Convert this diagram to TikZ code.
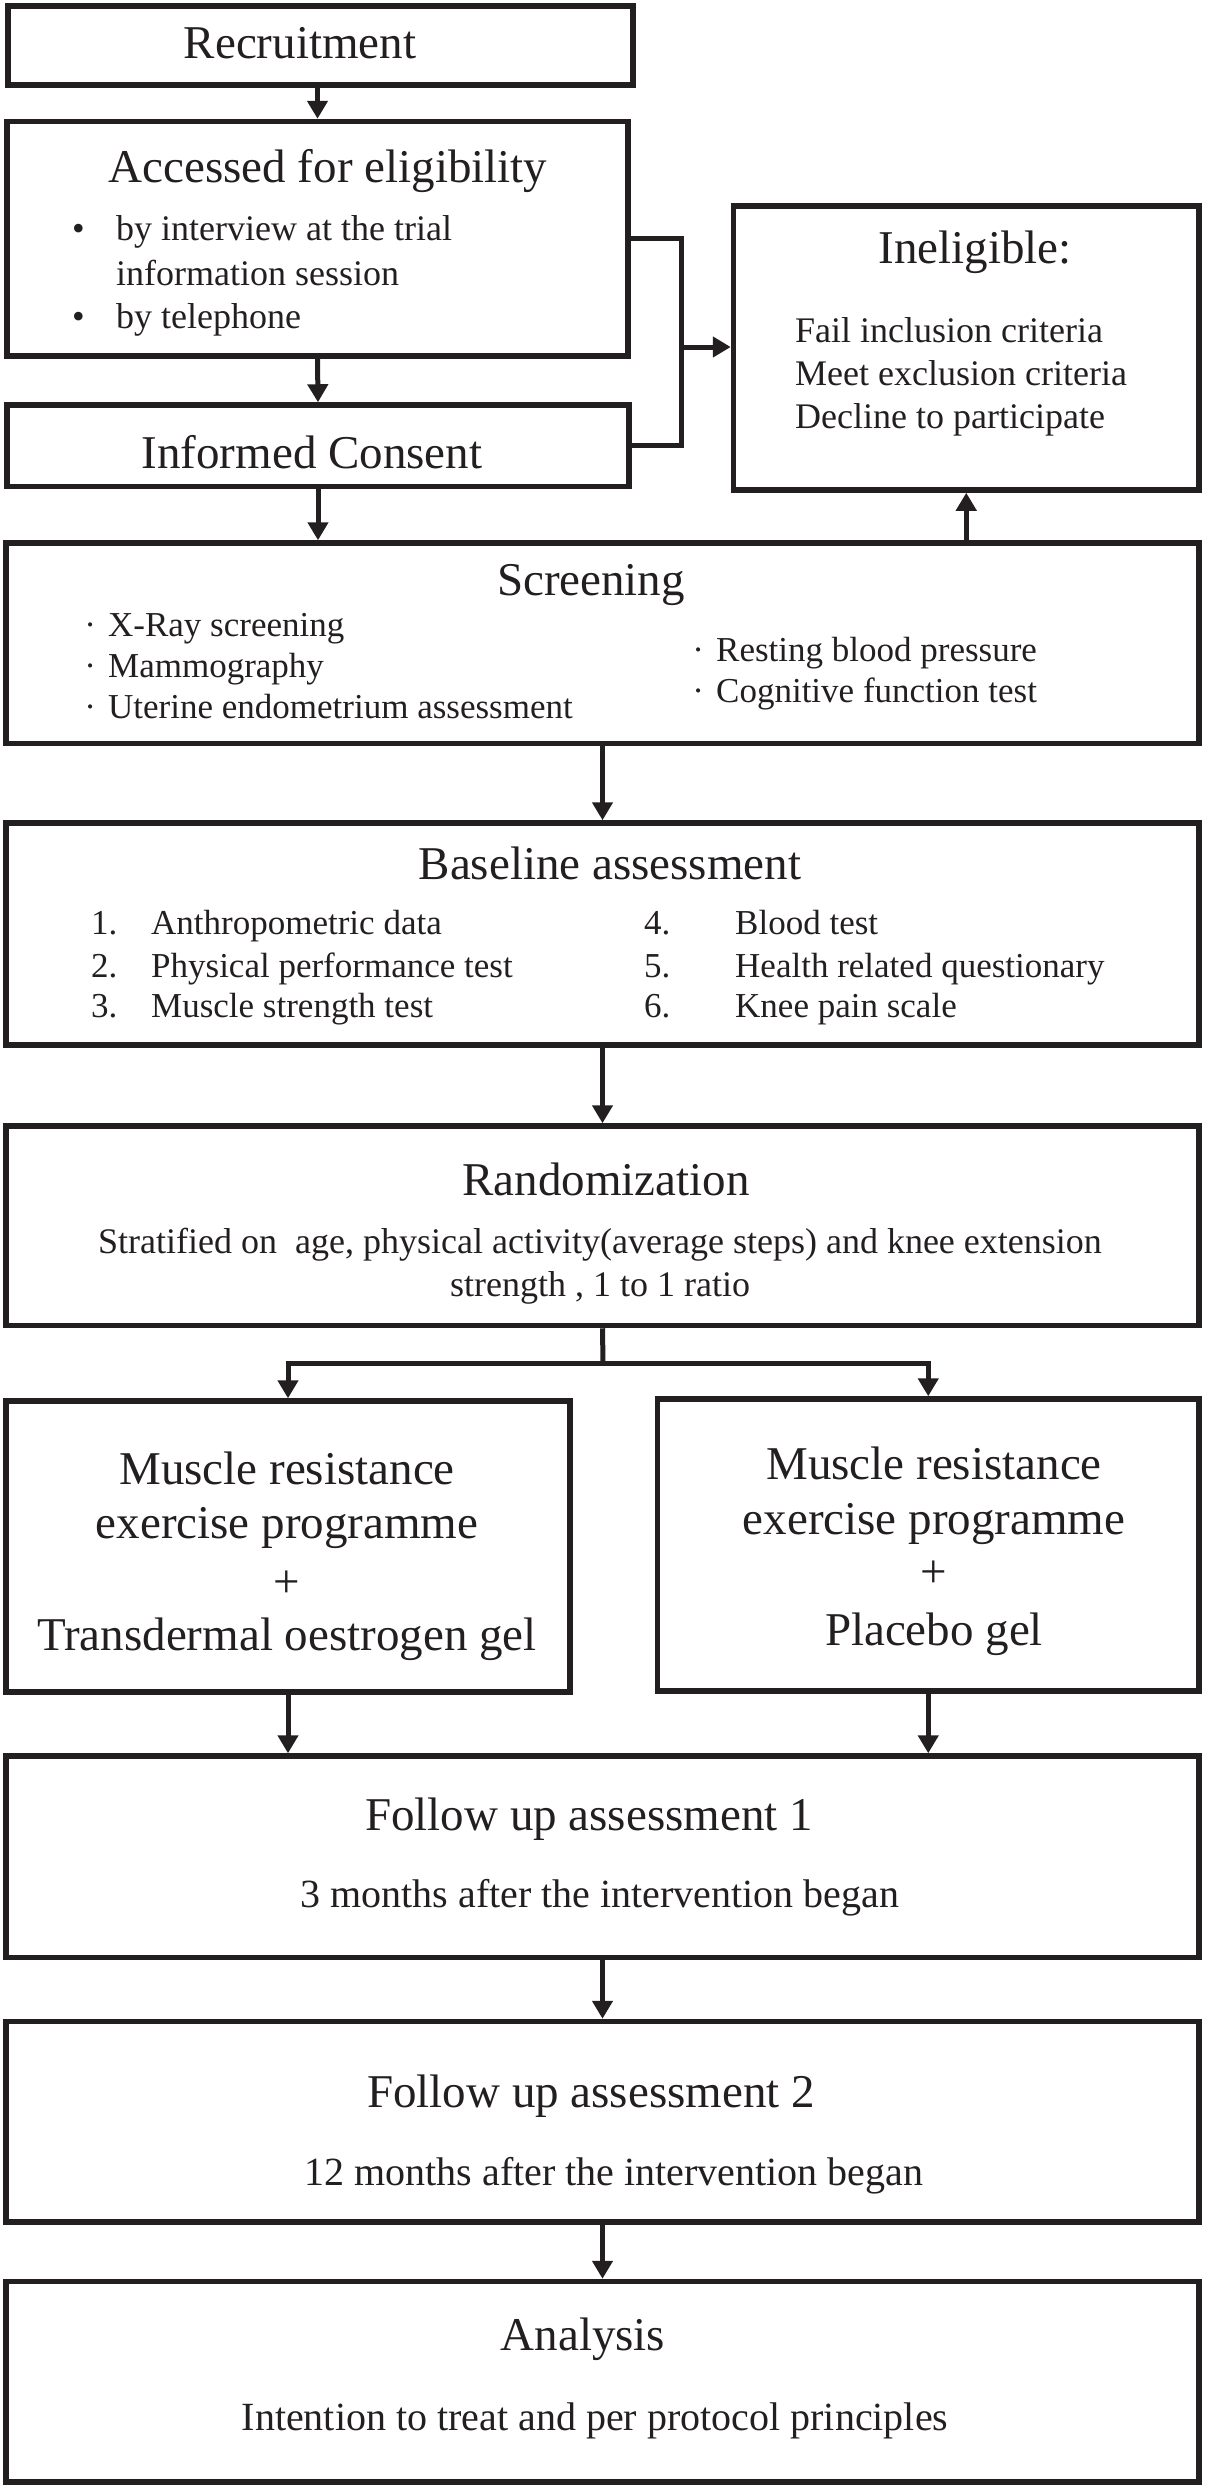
\documentclass[tikz,border=0pt]{standalone}
\usepackage{fontspec}
\setmainfont{Liberation Serif}
\usetikzlibrary{arrows.meta,fit}
\definecolor{ink}{RGB}{35,31,32}
\newcommand\szT{\fontsize{47}{56}\selectfont}
\newcommand\szB{\fontsize{36}{43}\selectfont}
\newcommand\szS{\fontsize{35}{42}\selectfont}
\newcommand\szF{\fontsize{40}{48}\selectfont}
\begin{document}
\begin{tikzpicture}[x=1pt,y=-1pt,
  box/.style={draw=ink, line width=5.5pt, inner sep=0pt, rectangle},
  ln/.style={draw=ink, line width=5pt},
  arr/.style={ln, -{Triangle[length=18pt,width=20pt]}},
  tx/.style={anchor=base, inner sep=0pt, text=ink},
  tl/.style={anchor=base west, inner sep=0pt, text=ink}]
\useasboundingbox (0,0) rectangle (1205,2485);
% boxes
\node[box, fit={(8,6) (633,85)}] (rec) {};
\node[box, fit={(7,121.5) (628,356)}] (acc) {};
\node[box, fit={(7,405) (629,486.5)}] (inf) {};
\node[box, fit={(733.5,206) (1199,490)}] (inel) {};
\node[box, fit={(6,543) (1199,743.5)}] (scr) {};
\node[box, fit={(6,823) (1199,1045)}] (base) {};
\node[box, fit={(6,1126) (1199,1325.5)}] (rand) {};
\node[box, fit={(6,1401) (570,1692)}] (armL) {};
\node[box, fit={(657.5,1399) (1199,1691)}] (armR) {};
\node[box, fit={(6,1756) (1199,1957.5)}] (fu1) {};
\node[box, fit={(6,2021.5) (1199,2222)}] (fu2) {};
\node[box, fit={(6,2281.5) (1199,2482)}] (ana) {};
% texts
\node[tx, font=\szT] (trec) at (300,58) {Recruitment};
\node[tx, font=\szT] (tacc) at (328,182) {Accessed for eligibility};
\node[tl, font=\szB] (tacc1) at (72,240) {\makebox[44pt][l]{•}by interview at the trial};
\node[tl, font=\szB] (tacc2) at (116,285) {information session};
\node[tl, font=\szB] (tacc3) at (72,328) {\makebox[44pt][l]{•}by telephone};
\node[tx, font=\szT] (tinf) at (312,468) {Informed Consent};
\node[tx, font=\szT] (tinel) at (975,263) {Ineligible:};
\node[tl, font=\szB] (tin1) at (795,342) {Fail inclusion criteria};
\node[tl, font=\szB] (tin2) at (795,385) {Meet exclusion criteria};
\node[tl, font=\szB] (tin3) at (795,428) {Decline to participate};
\node[tx, font=\szT] (tscr) at (591,595) {Screening};
\node[tl, font=\szS] (ts1) at (72,636) {\makebox[36pt]{·}X-Ray screening};
\node[tl, font=\szS] (ts2) at (72,677) {\makebox[36pt]{·}Mammography};
\node[tl, font=\szS] (ts3) at (72,718) {\makebox[36pt]{·}Uterine endometrium assessment};
\node[tl, font=\szS] (ts4) at (680,661) {\makebox[36pt]{·}Resting blood pressure};
\node[tl, font=\szS] (ts5) at (680,702) {\makebox[36pt]{·}Cognitive function test};
\node[tx, font=\szT] (tbase) at (610,879) {Baseline assessment};
\node[tl, font=\szS] (tb1) at (91,934) {\makebox[60pt][l]{1.}Anthropometric data};
\node[tl, font=\szS] (tb2) at (91,977) {\makebox[60pt][l]{2.}Physical performance test};
\node[tl, font=\szS] (tb3) at (91,1017) {\makebox[60pt][l]{3.}Muscle strength test};
\node[tl, font=\szS] (tb4) at (644,934) {\makebox[91pt][l]{4.}Blood test};
\node[tl, font=\szS] (tb5) at (644,977) {\makebox[91pt][l]{5.}Health related questionary};
\node[tl, font=\szS] (tb6) at (644,1017) {\makebox[91pt][l]{6.}Knee pain scale};
\node[tx, font=\szT] (trand) at (606,1195) {Randomization};
\node[tx, font=\szB] (tr1) at (600,1253) {Stratified on \ age, physical activity(average steps) and knee extension};
\node[tx, font=\szB] (tr2) at (600,1296) {strength , 1 to 1 ratio};
\node[tx, font=\szT] (tl1) at (287,1484) {Muscle resistance};
\node[tx, font=\szT] (tl2) at (287,1538) {exercise programme};
\node[tx, font=\szT] (tl3) at (287,1597) {+};
\node[tx, font=\szT] (tl4) at (287,1650) {Transdermal oestrogen gel};
\node[tx, font=\szT] (trr1) at (934,1479) {Muscle resistance};
\node[tx, font=\szT] (trr2) at (934,1534) {exercise programme};
\node[tx, font=\szT] (trr3) at (934,1587) {+};
\node[tx, font=\szT] (trr4) at (934,1645) {Placebo gel};
\node[tx, font=\szT] (tf1) at (589,1830) {Follow up assessment 1};
\node[tx, font=\szF] (tf1s) at (600,1907) {3 months after the intervention began};
\node[tx, font=\szT] (tf2) at (591,2107) {Follow up assessment 2};
\node[tx, font=\szF] (tf2s) at (614,2185) {12 months after the intervention began};
\node[tx, font=\szT] (tan) at (583,2350) {Analysis};
\node[tx, font=\szF] (tans) at (595,2430) {Intention to treat and per protocol principles};
% connectors
\draw[arr] (acc.north |- rec.south) -- (acc.north);
\draw[arr] (acc.south) -- (inf.north);
\draw[arr] (inf.south) -- (inf.south |- scr.north);
\coordinate (bj) at (681.5,347);
\draw[ln, line join=miter] (acc.east) -| (bj) |- (inf.east);
\draw[arr] (bj) -- (bj -| inel.west);
\draw[arr] (inel.south |- scr.north) -- (inel.south);
\draw[arr] (scr.south) -- (base.north);
\draw[arr] (base.south) -- (rand.north);
\coordinate (split) at (603,1363);
\draw[ln] (rand.south) -- (split);
\draw[arr, line join=miter] (split) -| (armL.north);
\draw[arr, line join=miter] (split) -| (armR.north);
\draw[arr] (armL.south) -- (armL.south |- fu1.north);
\draw[arr] (armR.south) -- (armR.south |- fu1.north);
\draw[arr] (fu1.south) -- (fu2.north);
\draw[arr] (fu2.south) -- (ana.north);
\end{tikzpicture}
\end{document}
